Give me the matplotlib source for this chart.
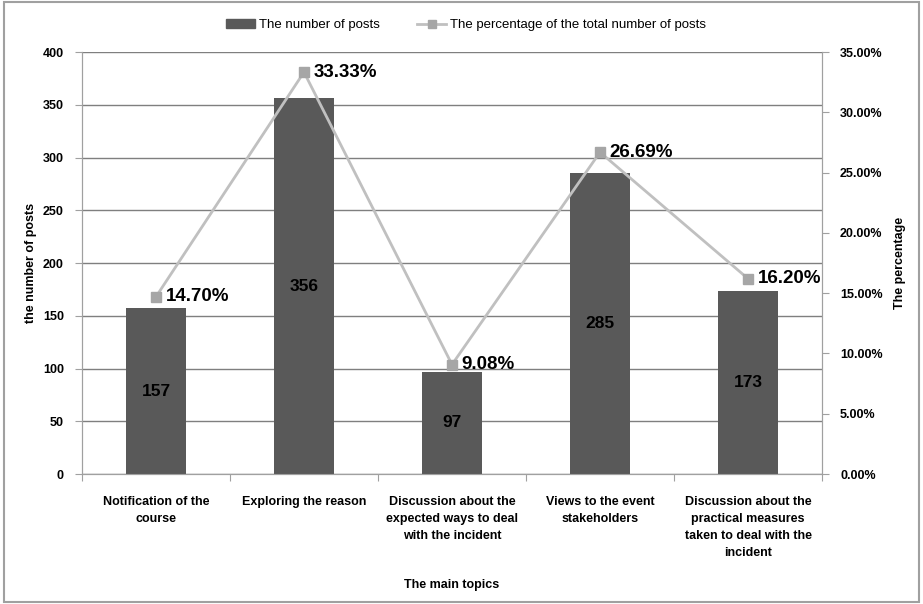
import matplotlib
matplotlib.use("Agg")
import matplotlib.pyplot as plt
from matplotlib.patches import Rectangle
from matplotlib.lines import Line2D

# dane
topics = ["Notification of the\ncourse", "Exploring the reason",
          "Discussion about the\nexpected ways to deal\nwith the incident",
          "Views to the event\nstakeholders",
          "Discussion about the\npractical measures\ntaken to deal with the\nincident"]
posts = [157, 356, 97, 285, 173]
percent = [14.70, 33.33, 9.08, 26.69, 16.20]

plt.rcParams['font.family'] = ['Liberation Sans', 'DejaVu Sans']

fig = plt.figure(figsize=(9.23, 6.04), dpi=100)
ax1 = fig.add_axes([0.0888, 0.2152, 0.8018, 0.6987])
ax2 = ax1.twinx()

x = list(range(len(topics)))
ax1.bar(x, posts, width=0.4, color="#595959", zorder=3)
for i, v in enumerate(posts):
    ax1.text(i, v / 2, str(v), ha="center", va="center", fontsize=12.5,
             fontweight="bold", color="black", zorder=4)

ax1.set_xlim(-0.5, len(topics) - 0.5)
ax1.set_ylim(0, 400)
ax1.set_yticks(range(0, 401, 50))
ax1.grid(axis="y", color="#7f7f7f", linewidth=1.0, zorder=0)
ax1.set_axisbelow(True)
ax1.set_xticks([i - 0.5 for i in range(len(topics) + 1)], minor=False)
ax1.set_xticklabels([])
ax1.set_xticks(x, minor=True)
ax1.set_xticklabels(topics, minor=True, fontsize=9, fontweight="bold",
                    linespacing=1.55)
ax1.tick_params(axis="x", which="minor", length=0, pad=16)
ax1.tick_params(axis="x", which="major", length=5, color="#a0a0a0")
ax1.tick_params(axis="y", labelsize=9, length=5, color="#a0a0a0", pad=8)
for lab in ax1.get_yticklabels():
    lab.set_fontweight("bold")
ax1.set_ylabel("the number of posts", fontsize=9, fontweight="bold", labelpad=4)
ax1.set_xlabel("The main topics", fontsize=9, fontweight="bold", labelpad=14)

ax2.plot(x, percent, color="#c0c0c0", linewidth=2, marker="s", markersize=7,
         markerfacecolor="#a6a6a6", markeredgecolor="#a6a6a6", zorder=5)
for i, p in enumerate(percent):
    ax2.text(i + 0.065, p, f"{p:.2f}%", ha="left", va="center", fontsize=13.5,
             fontweight="bold", color="black")
ax2.set_ylim(0, 35)
ax2.set_yticks(range(0, 36, 5))
ax2.set_yticklabels([f"{t:.2f}%" for t in range(0, 36, 5)], fontsize=9,
                    fontweight="bold")
ax2.tick_params(axis="y", length=5, color="#a0a0a0", pad=8)
ax2.set_ylabel("The percentage", fontsize=9, fontweight="bold", labelpad=8)

for a in (ax1, ax2):
    a.spines["top"].set_visible(False)
    for s in ("left", "right", "bottom"):
        a.spines[s].set_color("#a0a0a0")

handles = [Rectangle((0, 0), 1, 1, color="#595959"),
           Line2D([], [], color="#c0c0c0", linewidth=2, marker="s",
                  markersize=6, markerfacecolor="#a6a6a6", markeredgecolor="#a6a6a6")]
fig.legend(handles, ["The number of posts", "The percentage of the total number of posts"],
           loc="center", bbox_to_anchor=(0.505, 0.958), ncol=2, frameon=False,
           fontsize=9.5, handlelength=2.2, columnspacing=2.8, handletextpad=0.3)

fig.patches.append(Rectangle((0.004, 0.004), 0.992, 0.992, transform=fig.transFigure,
                             fill=False, edgecolor="#a0a0a0", linewidth=1.5))

fig.savefig("out.png", dpi=100)
